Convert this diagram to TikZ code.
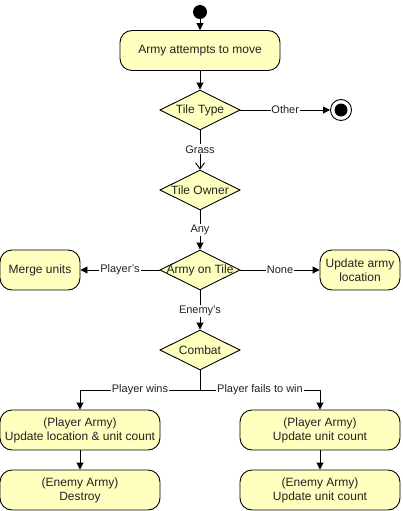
\documentclass[tikz,border=0pt]{standalone}
\usepackage{fontspec}
\setmainfont{Liberation Sans}
\usetikzlibrary{arrows.meta,shapes.geometric}
\definecolor{boxfill}{HTML}{FFFFC0}
\definecolor{txt}{HTML}{222222}
\tikzset{
  act/.style={draw=black,fill=boxfill,rounded corners=12pt,minimum height=40pt,align=center,font=\fontsize{12}{14}\selectfont,text=txt,inner sep=1pt,line width=0.9pt},
  dec/.style={draw=black,fill=boxfill,diamond,minimum width=80pt,minimum height=40pt,inner sep=0pt,aspect=2,line width=0.9pt,
    label={[font=\fontsize{12}{14}\selectfont,text=txt,inner sep=0pt]center:#1}},
  conn/.style={draw=black,line width=0.9pt,-{Triangle[length=7pt,width=7pt]}},
  openconn/.style={draw=black,line width=0.9pt,-{Straight Barb[length=6pt,width=9pt]}},
  lbl/.style={fill=white,font=\fontsize{11}{13}\selectfont,text=txt,inner sep=1pt},
}
\begin{document}
\begin{tikzpicture}[x=1pt,y=-1pt]
\useasboundingbox (0,0) rectangle (402,511);
\node[circle,fill=black,minimum size=14pt,inner sep=0pt] (start) at (200,12) {};
\node[act,minimum width=160pt] (move) at (200,50.5) {Army attempts to move};
\node[dec={Tile Type}] (type) at (200,110) {};
\node[circle,draw=black,line width=0.9pt,fill=white,minimum size=21pt,inner sep=0pt] (end) at (341,110) {};
\node[circle,fill=black,minimum size=13pt,inner sep=0pt] (endin) at (341,110) {};
\node[dec={Tile Owner}] (owner) at (200,190) {};
\node[dec={Army on Tile}] (ontile) at (200,270) {};
\node[act,minimum width=80pt] (merge) at (40,270) {Merge units};
\node[act,minimum width=80pt] (upd) at (360,270) {Update army\\location};
\node[dec={Combat}] (combat) at (200,350) {};
\node[act,minimum width=160pt] (pwin) at (80,430) {(Player Army)\\Update location \& unit count};
\node[act,minimum width=160pt] (pfail) at (320,430) {(Player Army)\\Update unit count};
\node[act,minimum width=160pt] (edest) at (80,490) {(Enemy Army)\\Destroy};
\node[act,minimum width=160pt] (eupd) at (320,490) {(Enemy Army)\\Update unit count};
\coordinate (split) at (200,390);

\draw[conn] (start) -- (move);
\draw[conn] (move) -- (type);
\draw[conn] (type) -- node[lbl] {Other} (end);
\draw[openconn] (type) -- node[lbl,pos=0.48] {Grass} (owner);
\draw[conn] (owner) -- node[lbl] {Any} (ontile);
\draw[conn] (ontile) -- node[lbl] {Player's} (merge);
\draw[conn] (ontile) -- node[lbl] {None} (upd);
\draw[conn] (ontile) -- node[lbl,pos=0.52] {Enemy's} (combat);
\draw[line width=0.9pt] (combat.south) -- (split);
\draw[conn] (split) -- node[lbl,pos=0.5] {Player wins} (80,390) -- (pwin);
\draw[conn] (split) -- node[lbl,pos=0.5] {Player fails to win} (320,390) -- (pfail);
\draw[conn] (pwin) -- (edest);
\draw[conn] (pfail) -- (eupd);
\end{tikzpicture}
\end{document}
